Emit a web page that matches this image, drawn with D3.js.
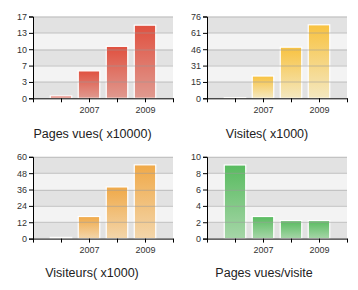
<!DOCTYPE html>
<html><head><meta charset="utf-8">
<script src="https://cdn.jsdelivr.net/npm/d3@7"></script>
<style>body{margin:0;background:#fff}svg{display:block}</style>
</head><body>
<svg id="c" width="358" height="290"></svg>
<script>
const years = [2006, 2007, 2008, 2009];
const xLabels = ["2007", "2009"];
const pagesVues = [0.5, 5.7, 10.8, 15.2];
const visites = [0.6, 20.7, 47.5, 68.3];
const visiteurs = [0.9, 16.2, 37.9, 54.1];
const pagesParVisite = [9.0, 2.7, 2.2, 2.2];
const ticks1 = ["0","3","7","10","13","17"];
const ticks2 = ["0","15","31","46","61","76"];
const ticks3 = ["0","12","24","36","48","60"];
const ticks4 = ["0","2","4","6","8","10"];
const titles = ["Pages vues( x10000)", "Visites( x1000)", "Visiteurs( x1000)", "Pages vues/visite"];
const maxes = [17, 76, 60, 10];

const panels = [
  {ox:0, oy:0, data:pagesVues, ticks:ticks1, max:maxes[0], title:titles[0], c1:"#e0503f", c2:"#e09a90", tx:92.5, ty:137.5},
  {ox:174, oy:0, data:visites, ticks:ticks2, max:maxes[1], title:titles[1], c1:"#f8c240", c2:"#f4e8c0", tx:267, ty:137.5},
  {ox:0, oy:140.3, data:visiteurs, ticks:ticks3, max:maxes[2], title:titles[2], c1:"#f0a948", c2:"#f3d6ab", tx:92, ty:276.5},
  {ox:174, oy:140.3, data:pagesParVisite, ticks:ticks4, max:maxes[3], title:titles[3], c1:"#58bb5f", c2:"#a6d6a8", tx:264, ty:276.5}
];

const svg = d3.select("#c");
const defs = svg.append("defs");
const W = 140, H = 81.8, L = 33, T = 16.5;

panels.forEach((p, i) => {
  const gid = "g" + i;
  const grad = defs.append("linearGradient").attr("id", gid).attr("x1",0).attr("y1",0).attr("x2",0).attr("y2",1);
  grad.append("stop").attr("offset","0%").attr("stop-color", p.c1);
  grad.append("stop").attr("offset","100%").attr("stop-color", p.c2);

  const g = svg.append("g").attr("transform", `translate(${p.ox + L},${p.oy + T})`);
  const x = d3.scaleLinear().domain([2005, 2010]).range([0, W]);
  const y = d3.scaleLinear().domain([0, p.max]).range([H, 0]);
  const tv = d3.range(6).map(k => p.max * k / 5);

  // bands
  for (let k = 0; k < 5; k++) {
    g.append("rect").attr("x", 0).attr("width", W)
      .attr("y", y(tv[k+1])).attr("height", y(tv[k]) - y(tv[k+1]))
      .attr("fill", k % 2 === 0 ? "#e2e2e2" : "#f3f3f3");
  }
  // bars
  const bw = 21.5;
  g.selectAll("rect.bar").data(p.data).join("rect").attr("class","bar")
    .attr("x", (d, j) => x(years[j]) - bw/2)
    .attr("width", bw)
    .attr("y", d => y(d))
    .attr("height", d => H - y(d))
    .attr("fill", `url(#${gid})`)
    .attr("stroke", "#fff").attr("stroke-width", 1.2);
  // grid lines
  g.selectAll("line.grid").data(tv.slice(1)).join("line").attr("class","grid")
    .attr("x1", 0).attr("x2", W).attr("y1", d => Math.round(y(d))+0.5).attr("y2", d => Math.round(y(d))+0.5)
    .attr("stroke", "#9a9a9a").attr("stroke-opacity", 0.55).attr("stroke-width", 1);

  // y axis
  const ya = d3.axisLeft(y).tickValues(tv).tickSize(4).tickPadding(2)
    .tickFormat((d, k) => p.ticks[k]);
  const yg = g.append("g").call(ya);
  yg.select(".domain").attr("stroke", "#000");
  yg.selectAll(".tick line").attr("stroke", "#000");
  yg.selectAll("text").attr("font-family", "Liberation Sans, Arial, sans-serif").attr("font-size", 9).attr("fill", "#333");

  // x axis
  const xa = d3.axisBottom(x).tickValues(d3.range(2005, 2011)).tickSize(4).tickSizeOuter(0).tickPadding(4)
    .tickFormat(d => xLabels.includes(String(d)) ? String(d) : "");
  const xg = g.append("g").attr("transform", `translate(0,${H})`).call(xa);
  xg.select(".domain").attr("stroke", "#000");
  xg.selectAll(".tick line").attr("stroke", "#000");
  xg.selectAll("text").attr("font-family", "Liberation Sans, Arial, sans-serif").attr("font-size", 9).attr("fill", "#333");

  svg.append("text").attr("x", p.tx).attr("y", p.ty).attr("text-anchor", "middle")
    .attr("font-family", "Liberation Sans, Arial, sans-serif").attr("font-size", 12.5).attr("fill", "#222")
    .text(p.title);
});
</script>
</body></html>
